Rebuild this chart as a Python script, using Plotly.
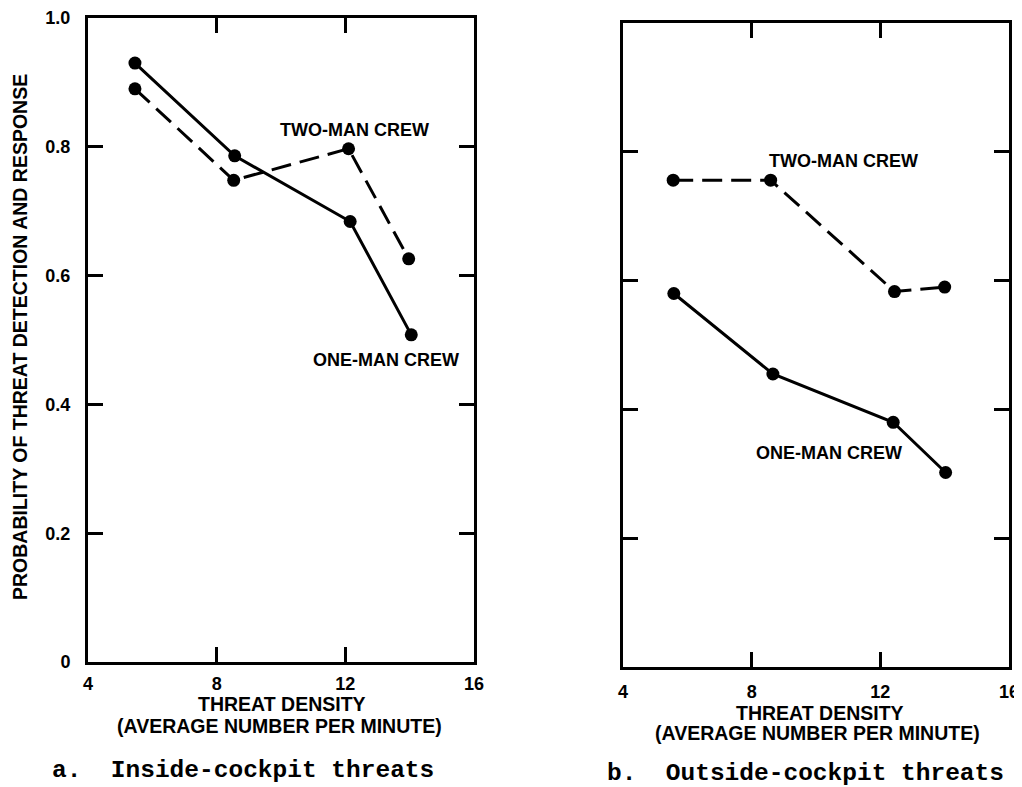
import plotly.graph_objects as go

# Panel a: inside-cockpit threats
a_one_x = [5.46, 8.56, 12.15, 14.05]
a_one_y = [0.930, 0.786, 0.684, 0.508]
a_two_x = [5.46, 8.53, 12.10, 13.97]
a_two_y = [0.890, 0.748, 0.797, 0.626]

# Panel b: outside-cockpit threats
b_one_x = [5.58, 8.66, 12.40, 14.03]
b_one_y = [0.580, 0.455, 0.380, 0.302]
b_two_x = [5.56, 8.59, 12.44, 14.00]
b_two_y = [0.756, 0.756, 0.583, 0.590]

x_ticks = [4, 8, 12, 16]
x_tick_text = ["4", "8", "12", "16"]
y_ticks = [0, 0.2, 0.4, 0.6, 0.8, 1.0]
y_tick_text = ["0", "0.2", "0.4", "0.6", "0.8", "1.0"]

SANS = "Liberation Sans"
INK = "black"

# page offset (body margin) and figure size
OFF = 8
FW, FH = 1014, 779


def X(p):
    return (p - OFF) / FW


def Y(p):
    return 1 - (p - OFF) / FH


fig = go.Figure()


def add_series(x, y, xa, ya, dashed):
    fig.add_trace(go.Scatter(
        x=x, y=y, xaxis=xa, yaxis=ya, mode="lines+markers",
        line=dict(color=INK, width=3, dash="20px,9px" if dashed else "solid"),
        marker=dict(color=INK, size=13, symbol="circle"),
        showlegend=False, hoverinfo="skip"))


add_series(a_one_x, a_one_y, "x", "y", False)
add_series(a_two_x, a_two_y, "x", "y", True)
add_series(b_one_x, b_one_y, "x2", "y2", False)
add_series(b_two_x, b_two_y, "x2", "y2", True)

axis_common = dict(
    showline=True, linecolor=INK, linewidth=3, mirror="ticks",
    ticks="inside", ticklen=15, tickwidth=2.5, tickcolor=INK,
    showgrid=False, zeroline=False, fixedrange=True, automargin=False,
    tickfont=dict(family=SANS, size=18, color=INK, weight="bold"),
)

fig.update_layout(
    width=FW, height=FH,
    margin=dict(l=0, r=0, t=0, b=0),
    paper_bgcolor="white", plot_bgcolor="white",
    xaxis=dict(domain=[X(88), X(474)], range=[4, 16], tickvals=x_ticks,
               ticktext=x_tick_text, anchor="y", ticklabelstandoff=3, **axis_common),
    yaxis=dict(domain=[Y(662), Y(18)], range=[0, 1.0], tickvals=y_ticks,
               ticktext=y_tick_text, anchor="x", ticklabelstandoff=11, **axis_common),
    xaxis2=dict(domain=[X(623), X(1009)], range=[4, 16], tickvals=x_ticks,
                ticktext=x_tick_text, anchor="y2", ticklabelstandoff=6, **axis_common),
    yaxis2=dict(domain=[Y(667), Y(23)], range=[0, 1.0], tickvals=y_ticks,
                ticktext=y_tick_text, anchor="x2", showticklabels=False, **axis_common),
)

lab_font = dict(family=SANS, size=18, color=INK, weight="bold")
ann = [
    dict(x=12.28, y=0.826, xref="x", yref="y", text="TWO-MAN CREW"),
    dict(x=13.27, y=0.469, xref="x", yref="y", text="ONE-MAN CREW"),
    dict(x=10.84, y=0.786, xref="x2", yref="y2", text="TWO-MAN CREW"),
    dict(x=10.40, y=0.332, xref="x2", yref="y2", text="ONE-MAN CREW"),
]
for a in ann:
    fig.add_annotation(showarrow=False, font=lab_font, xanchor="center",
                       yanchor="middle", **a)

# Axis titles (two lines each, tight spacing)
title_font = dict(family=SANS, size=19.5, color=INK, weight="bold")
for cx, y1, y2 in [(282, 704, 726), (820, 713, 733)]:
    fig.add_annotation(x=X(cx), y=Y(y1), xref="paper", yref="paper",
                       text="THREAT DENSITY", showarrow=False,
                       xanchor="center", yanchor="middle", font=title_font)
    fig.add_annotation(x=X(cx - 3), y=Y(y2), xref="paper", yref="paper",
                       text="(AVERAGE NUMBER PER MINUTE)", showarrow=False,
                       xanchor="center", yanchor="middle", font=title_font)

fig.add_annotation(x=X(20), y=Y(337), xref="paper", yref="paper",
                   text="PROBABILITY OF THREAT DETECTION AND RESPONSE",
                   textangle=-90, showarrow=False, xanchor="center", yanchor="middle",
                   font=dict(family=SANS, size=19.5, color=INK, weight="bold"))

# Captions
cap_font = dict(family="Liberation Mono", size=24.5, color=INK, weight="bold")
fig.add_annotation(x=X(50), y=Y(770), xref="paper", yref="paper",
                   text="a.  Inside-cockpit threats", showarrow=False,
                   xanchor="left", yanchor="middle", font=cap_font)
fig.add_annotation(x=X(605), y=Y(773), xref="paper", yref="paper",
                   text="b.  Outside-cockpit threats", showarrow=False,
                   xanchor="left", yanchor="middle", font=cap_font)

fig.write_html("out.html")
